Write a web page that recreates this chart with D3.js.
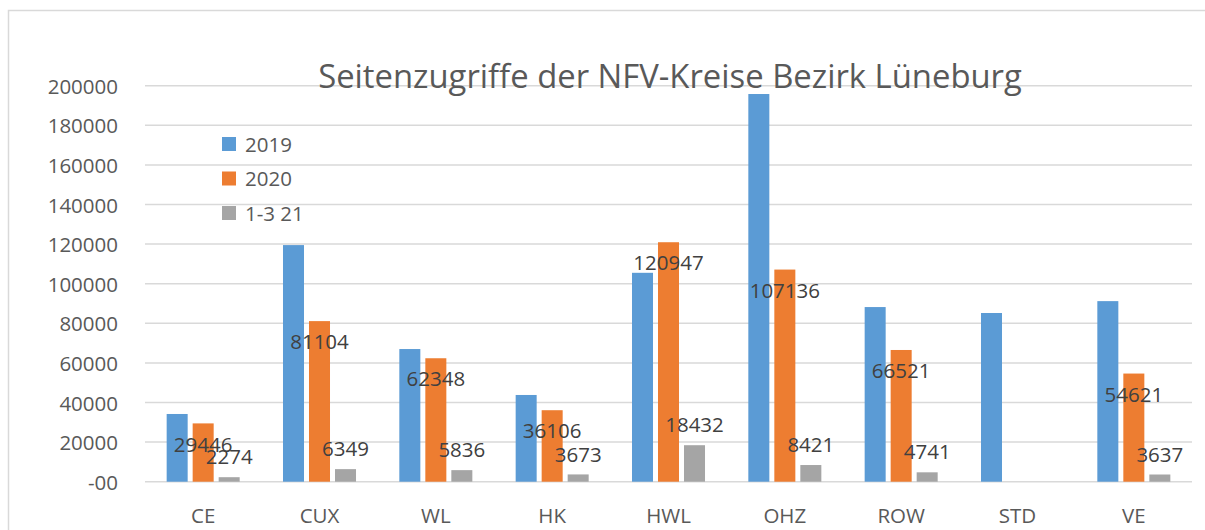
<!DOCTYPE html>
<html>
<head>
<meta charset="utf-8">
<script src="https://cdn.jsdelivr.net/npm/d3@7"></script>
<style>
  body { margin: 0; background: #fff; }
  text { font-family: "Open Sans", "Noto Sans", sans-serif; }
</style>
</head>
<body>
<div id="chart"></div>
<script>
const categories = ["CE", "CUX", "WL", "HK", "HWL", "OHZ", "ROW", "STD", "VE"]
const seriesNames = ["2019", "2020", "1-3 21"]
const values2019 = [34200, 119500, 67000, 43800, 105500, 195800, 88200, 85200, 91200]
const values2020 = [29446, 81104, 62348, 36106, 120947, 107136, 66521, null, 54621]
const values2021 = [2274, 6349, 5836, 3673, 18432, 8421, 4741, null, 3637]
const yTicks = [0, 20000, 40000, 60000, 80000, 100000, 120000, 140000, 160000, 180000, 200000]
const yTickLabels = ["-00", "20000", "40000", "60000", "80000", "100000", "120000", "140000", "160000", "180000", "200000"]
const title = "Seitenzugriffe der NFV-Kreise Bezirk Lüneburg"

const colors = ["#5b9bd5", "#ed7d31", "#a5a5a5"]
const seriesValues = [values2019, values2020, values2021]

const width = 1205
const height = 530
const margin = { top: 85.7, right: 13, bottom: 48.3, left: 145 }

const svg = d3.select("#chart").append("svg")
  .attr("width", width)
  .attr("height", height)

// outer chart border (runs off right and bottom of the picture)
svg.append("rect")
  .attr("x", 8.5).attr("y", 10.5)
  .attr("width", 1400).attr("height", 700)
  .attr("fill", "none")
  .attr("stroke", "#d9d9d9")
  .attr("stroke-width", 1.5)

const innerW = width - margin.left - margin.right
const innerH = height - margin.top - margin.bottom

const g = svg.append("g")
  .attr("transform", "translate(" + margin.left + "," + margin.top + ")")

const x0 = d3.scaleBand().domain(categories).range([0, innerW]).padding(0)
const x1 = d3.scaleBand().domain(seriesNames).range([0, x0.bandwidth()])
  .paddingInner(0.192).paddingOuter(0.833)
const y = d3.scaleLinear().domain([0, 200000]).range([innerH, 0])

// gridlines
g.append("g").selectAll("line")
  .data(yTicks)
  .join("line")
  .attr("x1", 0).attr("x2", innerW)
  .attr("y1", d => y(d)).attr("y2", d => y(d))
  .attr("stroke", "#d9d9d9")
  .attr("stroke-width", 1.5)

// y axis labels
g.append("g").selectAll("text")
  .data(yTicks)
  .join("text")
  .attr("x", -27)
  .attr("y", d => y(d) + 1)
  .attr("dy", "0.35em")
  .attr("text-anchor", "end")
  .attr("font-size", 20.5)
  .attr("fill", "#595959")
  .text((d, i) => yTickLabels[i])

// category labels
g.append("g").selectAll("text")
  .data(categories)
  .join("text")
  .attr("x", d => x0(d) + x0.bandwidth() / 2)
  .attr("y", innerH + 34)
  .attr("dy", "0.35em")
  .attr("text-anchor", "middle")
  .attr("font-size", 20.5)
  .attr("fill", "#595959")
  .text(d => d)

// bars
seriesNames.forEach((s, si) => {
  const data = categories.map((c, i) => ({ cat: c, v: seriesValues[si][i] }))
    .filter(d => d.v != null)
  g.append("g").selectAll("rect")
    .data(data)
    .join("rect")
    .attr("x", d => x0(d.cat) + x1(s))
    .attr("y", d => y(d.v))
    .attr("width", x1.bandwidth())
    .attr("height", d => innerH - y(d.v))
    .attr("fill", colors[si])
})

// data labels: 2020 inside end, 1-3 21 outside end
const labelSpecs = [
  { si: 1, off: 21 },
  { si: 2, off: -20 }
]
labelSpecs.forEach(spec => {
  const s = seriesNames[spec.si]
  const data = categories.map((c, i) => ({ cat: c, v: seriesValues[spec.si][i] }))
    .filter(d => d.v != null)
  g.append("g").selectAll("text")
    .data(data)
    .join("text")
    .attr("x", d => x0(d.cat) + x1(s) + x1.bandwidth() / 2)
    .attr("y", d => y(d.v) + spec.off)
    .attr("dy", "0.35em")
    .attr("text-anchor", "middle")
    .attr("font-size", 20.5)
    .attr("fill", "#404040")
    .text(d => d.v)
})

// legend
const legend = svg.append("g").attr("transform", "translate(222,137)")
seriesNames.forEach((s, i) => {
  const row = legend.append("g").attr("transform", "translate(0," + (i * 34.5) + ")")
  row.append("rect")
    .attr("width", 14).attr("height", 14)
    .attr("fill", colors[i])
  row.append("text")
    .attr("x", 23).attr("y", 7.5)
    .attr("dy", "0.35em")
    .attr("font-size", 20.5)
    .attr("fill", "#595959")
    .text(s)
})

// title, scaled to the width it takes in the picture
const t = svg.append("text")
  .attr("x", 670)
  .attr("y", 88)
  .attr("text-anchor", "middle")
  .attr("font-size", 30)
  .attr("fill", "#595959")
  .text(title)
const tw = t.node().getComputedTextLength()
t.attr("font-size", 30 * 704 / tw)
</script>
</body>
</html>
